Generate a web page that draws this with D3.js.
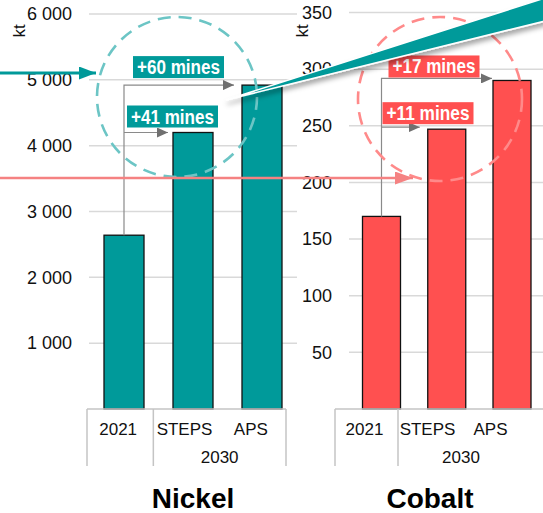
<!DOCTYPE html>
<html><head><meta charset="utf-8">
<script src="https://cdn.jsdelivr.net/npm/d3@7"></script>
<style>body{margin:0;background:#fff}svg{display:block;font-family:"Liberation Sans",Arial,sans-serif}</style>
</head><body><svg id="c" width="543" height="513"></svg>
<script>
const categories = ["2021", "STEPS", "APS"];
const nickelValues = [2640, 4200, 4920];
const cobaltValues = [170, 247, 290];
const nickelTicks = [1000, 2000, 3000, 4000, 5000, 6000];
const cobaltTicks = [50, 100, 150, 200, 250, 300, 350];
const groupLabel = "2030";
const unitLabel = "kt";
const nickelAnnotations = ["+41 mines", "+60 mines"];
const cobaltAnnotations = ["+11 mines", "+17 mines"];
const titles = ["Nickel", "Cobalt"];

const svg = d3.select("#c");
const defs = svg.append("defs");
defs.append("marker").attr("id","ag").attr("viewBox","0 0 10 10").attr("refX",10).attr("refY",5)
  .attr("markerWidth",11).attr("markerHeight",10).attr("markerUnits","userSpaceOnUse").attr("orient","auto").attr("preserveAspectRatio","none")
  .append("path").attr("d","M0,0L10,5L0,10Z").attr("fill","#707070");
defs.append("marker").attr("id","at").attr("viewBox","0 0 10 10").attr("refX",10).attr("refY",5)
  .attr("markerWidth",17).attr("markerHeight",13).attr("markerUnits","userSpaceOnUse").attr("orient","auto").attr("preserveAspectRatio","none")
  .append("path").attr("d","M0,0L10,5L0,10Z").attr("fill","#009999");
defs.append("marker").attr("id","ar").attr("viewBox","0 0 10 10").attr("refX",10).attr("refY",5)
  .attr("markerWidth",18).attr("markerHeight",13).attr("markerUnits","userSpaceOnUse").attr("orient","auto").attr("preserveAspectRatio","none")
  .append("path").attr("d","M0,0L10,5L0,10Z").attr("fill","#f58282");
const f = defs.append("filter").attr("id","sh").attr("x","-20%").attr("y","-50%").attr("width","140%").attr("height","200%");
f.append("feDropShadow").attr("dx",1).attr("dy",4).attr("stdDeviation",2.5).attr("flood-color","#000").attr("flood-opacity",0.35);

function panel(o){
  const g = svg.append("g");
  const y = d3.scaleLinear().domain([0, o.max]).range([409, o.top]);
  const xb = d3.scalePoint().domain(categories).range(o.barRange);
  const xl = d3.scaleBand().domain(categories).range(o.labRange);
  g.append("g").selectAll("line").data(o.ticks).join("line")
    .attr("x1", o.gridX[0]).attr("x2", o.gridX[1])
    .attr("y1", d=>y(d)).attr("y2", d=>y(d))
    .attr("stroke","#d9d9d9").attr("stroke-width",1.5);
  const ax = d3.axisLeft(y).tickValues(o.ticks).tickSize(0).tickPadding(0).tickFormat(o.fmt);
  const axg = g.append("g").attr("transform",`translate(${o.labelX},0)`).call(ax);
  axg.select(".domain").remove();
  axg.attr("font-size",18).attr("font-family","Liberation Sans, Arial, sans-serif");
  axg.selectAll("text").attr("fill","#111");
  g.append("text").attr("transform",`translate(${o.unitX},31) rotate(-90)`).attr("text-anchor","middle")
    .attr("dominant-baseline","central").attr("font-size",17).attr("fill","#111").text(unitLabel);
  g.append("g").selectAll("rect").data(o.values).join("rect")
    .attr("x",(d,i)=>xb(categories[i]) - o.bw/2).attr("width",o.bw)
    .attr("y",d=>y(d)).attr("height",d=>y(0)-y(d))
    .attr("fill",o.color).attr("stroke","#111").attr("stroke-width",1.3);
  const ag = g.append("g").attr("stroke","#c4c4c4").attr("stroke-width",1.5);
  const l0 = o.labRange[0];
  ag.append("line").attr("x1",l0).attr("x2",o.boxRight).attr("y1",409).attr("y2",409);
  [l0, xl("STEPS"), o.boxRight].forEach(x=>ag.append("line").attr("x1",x).attr("x2",x).attr("y1",409).attr("y2",466));
  g.append("g").selectAll("text").data(categories).join("text")
    .attr("x",d=>xl(d)+xl.bandwidth()/2 - 2).attr("y",435).attr("text-anchor","middle")
    .attr("font-size",17).attr("fill","#111").text(d=>d);
  g.append("text").attr("x",(xl("STEPS")+o.labRange[1])/2).attr("y",463).attr("text-anchor","middle")
    .attr("font-size",17).attr("fill","#111").text(groupLabel);
  g.append("text").attr("x",o.titleX).attr("y",508).attr("text-anchor","middle")
    .attr("font-size",28).attr("font-weight","bold").attr("fill","#000").text(o.title);
  const vx = xb("2021");
  const yA = y(o.values[2]) + o.dy, yS = y(o.values[1]) + o.dy;
  const ann = g.append("g").attr("fill","none").attr("stroke","#8a8a8a").attr("stroke-width",1.2);
  ann.append("path").attr("d",`M${vx},${y(o.values[0])}V${yA}H${xb("APS")-o.bw/2-o.gapA}`).attr("marker-end","url(#ag)");
  ann.append("path").attr("d",`M${vx},${yS}H${xb("STEPS")-o.bw/2-o.gapS}`).attr("marker-end","url(#ag)");
  const lab = (txt, x, yb) => {
    const t = g.append("text").attr("x",x+o.pad).attr("y",yb).attr("font-size",20).attr("font-weight","bold")
      .attr("fill","#fff").attr("text-anchor","start").attr("textLength",83).attr("lengthAdjust","spacingAndGlyphs").text(txt);
    const bb = t.node().getBBox();
    g.insert("rect", () => t.node()).attr("x",x).attr("y",bb.y).attr("width",83+2*o.pad).attr("height",bb.height)
      .attr("fill",o.color);
  };
  lab(o.ann[1], vx + o.offA, yA - o.boxGapA);
  lab(o.ann[0], vx + o.offS, yS - o.boxGapS);
  g.append("circle").attr("cx",o.circle[0]).attr("cy",o.circle[1]).attr("r",o.circle[2])
    .attr("fill","none").attr("stroke",o.circleColor).attr("stroke-width",2.6).attr("stroke-dasharray","13 8");
  return g;
}

panel({max:6000, top:14, ticks:nickelTicks, values:nickelValues, fmt:d=>d3.format(",")(d).replace(","," "),
  gridX:[89,297], labelX:72, unitX:19, barRange:[124,262], bw:40, labRange:[87,286], boxRight:286,
  color:"#009a9a", title:titles[0], titleX:193, dy:0, gapA:8, gapS:5, ann:nickelAnnotations,
  offA:9, offS:3, boxGapA:11, boxGapS:9, pad:4,
  circle:[177,97,80], circleColor:"#6cc5c5"});
panel({max:350, top:12.5, ticks:cobaltTicks, values:cobaltValues, fmt:d=>d,
  gridX:[349,543], labelX:332, unitX:302, barRange:[381.5,512], bw:38, labRange:[335,524], boxRight:560,
  color:"#ff5050", title:titles[1], titleX:430, dy:-2, gapA:1, gapS:8, ann:cobaltAnnotations,
  offA:7, offS:1, boxGapA:5, boxGapS:7, pad:4,
  circle:[440,99,82], circleColor:"#ff8a8a"});

svg.append("line").attr("x1",0).attr("x2",96).attr("y1",73).attr("y2",73)
  .attr("stroke","#009999").attr("stroke-width",3).attr("marker-end","url(#at)");
svg.append("line").attr("x1",0).attr("x2",413).attr("y1",178).attr("y2",178)
  .attr("stroke","#f58282").attr("stroke-width",2.5).attr("marker-end","url(#ar)");
svg.append("path").attr("d","M226,100L545,-2L545,21Z").attr("fill","#009a9a")
  .attr("stroke","#fff").attr("stroke-width",1.6).attr("stroke-linejoin","miter").attr("filter","url(#sh)");
</script></body></html>
